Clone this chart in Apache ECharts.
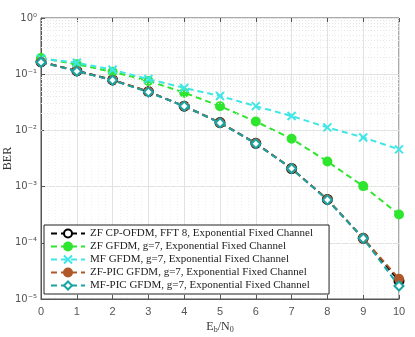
<!DOCTYPE html>
<html>
<head>
<meta charset="utf-8">
<script src="https://cdn.jsdelivr.net/npm/echarts@6/dist/echarts.min.js"></script>
<style>
  html, body { margin: 0; padding: 0; background: #fff; }
  #chart { width: 415px; height: 337px; }
</style>
</head>
<body>
<div id="chart"></div>
<script>
// Eb/N0 (dB)
const ebn0 = [0, 1, 2, 3, 4, 5, 6, 7, 8, 9, 10];

// BER curves
const zfOfdm = [0.166, 0.115, 0.079, 0.049, 0.027, 0.0138, 0.0059, 0.0021, 5.9e-4, 1.2e-4, 2.1e-5];
const zfGfdm = [0.195, 0.15, 0.11, 0.076, 0.047, 0.027, 0.0144, 0.0071, 0.0028, 0.00102, 3.2e-4];
const mfGfdm = [0.19, 0.16, 0.12, 0.082, 0.057, 0.041, 0.027, 0.018, 0.0113, 0.0075, 0.0046];
const zfPic = [0.165, 0.114, 0.079, 0.049, 0.027, 0.0137, 0.0059, 0.0021, 5.9e-4, 1.2e-4, 2.3e-5];
const mfPic = [0.163, 0.113, 0.078, 0.048, 0.027, 0.0136, 0.0058, 0.0021, 5.8e-4, 1.2e-4, 1.7e-5];

const names = [
  'ZF CP-OFDM, FFT 8, Exponential Fixed Channel',
  'ZF GFDM, g=7, Exponential Fixed Channel',
  'MF GFDM, g=7, Exponential Fixed Channel',
  'ZF-PIC GFDM, g=7, Exponential Fixed Channel',
  'MF-PIC GFDM, g=7, Exponential Fixed Channel',
];

// log minor grid values 2..9 x 10^e
const minorY = [];
for (let e = -5; e < 0; e++) {
  for (let k = 2; k <= 9; k++) minorY.push(k * Math.pow(10, e));
}

const supDigits = { '-': '\u207B', '0': '\u2070', '1': '\u00B9', '2': '\u00B2', '3': '\u00B3', '4': '\u2074', '5': '\u2075' };

const chart = echarts.init(document.getElementById('chart'));

function pairs(arr) {
  return arr.map((v, i) => [ebn0[i], v]);
}

function lineSeries(name, data, color, symbol, size, filled, z) {
  return {
    name: name,
    type: 'line',
    data: pairs(data),
    symbol: symbol,
    symbolSize: size,
    showAllSymbol: true,
    z: z,
    lineStyle: { color: color, width: 2, type: [6, 4] },
    itemStyle: {
      color: filled ? color : '#fff',
      borderColor: color,
      borderWidth: 2,
    },
  };
}

const axisGray = '#555';

chart.setOption({
  animation: false,
  backgroundColor: '#fff',
  grid: {
    left: 41, right: 16, top: 18, bottom: 38,
    outerBoundsMode: 'none',
    containLabel: false,
    show: true, borderColor: axisGray, borderWidth: 1,
  },
  legend: {
    orient: 'vertical',
    left: 44,
    top: 225,
    padding: [3, 16, 3, 6],
    itemGap: 2,
    itemWidth: 34,
    itemHeight: 10,
    backgroundColor: '#fff',
    borderColor: '#222',
    borderWidth: 1,
    textStyle: { fontFamily: 'Liberation Serif', fontSize: 11, color: '#222' },
    data: names,
  },
  xAxis: [
    {
      type: 'value',
      min: 0, max: 10, interval: 1,
      name: '{i|E}{s|b}{i|/N}{s|0}',
      nameLocation: 'middle',
      nameGap: 21,
      nameMoveOverlap: false,
      nameTextStyle: {
        rich: {
          i: { fontFamily: 'Liberation Serif', fontSize: 12, color: '#333' },
          s: { fontFamily: 'Liberation Serif', fontSize: 8, color: '#333', padding: [6, 0, 0, 0] },
        },
      },
      axisLine: { lineStyle: { color: axisGray } },
      axisTick: { inside: true, length: 4, lineStyle: { color: axisGray } },
      axisLabel: { color: '#555', fontFamily: 'Liberation Sans', fontSize: 11, margin: 7 },
      splitLine: { show: true, lineStyle: { color: '#e2e2e2' } },
      minorTick: { show: false, splitNumber: 5 },
      minorSplitLine: { show: true, lineStyle: { color: '#f0f0f0', type: [1, 2] } },
    },
    {
      type: 'value',
      position: 'top',
      min: 0, max: 10, interval: 1,
      axisLine: { show: false },
      axisTick: { inside: true, length: 4, lineStyle: { color: axisGray } },
      axisLabel: { show: false },
      splitLine: { show: false },
    },
  ],
  yAxis: {
    type: 'log',
    logBase: 10,
    min: 1e-5,
    max: 1,
    name: 'BER',
    nameLocation: 'middle',
    nameGap: 27,
    nameMoveOverlap: false,
    nameTextStyle: { fontFamily: 'Liberation Serif', fontSize: 12, color: '#333' },
    axisLine: { show: true, lineStyle: { color: axisGray } },
    axisTick: { inside: true, length: 4, lineStyle: { color: axisGray } },
    axisLabel: {
      color: '#555',
      fontFamily: 'DejaVu Sans',
      fontSize: 10,
      margin: 4,
      formatter: function (v) {
        const e = String(Math.round(Math.log10(v)));
        return '10' + e.split('').map(c => supDigits[c]).join('');
      },
    },
    splitLine: { show: true, lineStyle: { color: '#e2e2e2' } },
  },
  series: [
    {
      type: 'line',
      data: [],
      silent: true,
      markLine: {
        silent: true,
        symbol: 'none',
        label: { show: false },
        lineStyle: { color: '#e6e6e6', type: [1, 2], width: 1 },
        data: minorY.map(v => ({ yAxis: v })),
      },
    },
    lineSeries(names[0], zfOfdm, '#000000', 'circle', 9, false, 3),
    lineSeries(names[1], zfGfdm, '#2ee62e', 'circle', 8, true, 4),
    lineSeries(names[2], mfGfdm, '#40e6e6', 'path://M0,0L10,10M10,0L0,10', 8, false, 5),
    lineSeries(names[3], zfPic, '#b0582a', 'circle', 8, true, 6),
    lineSeries(names[4], mfPic, '#1aa3a3', 'diamond', 9, false, 7),
  ],
});
</script>
</body>
</html>
